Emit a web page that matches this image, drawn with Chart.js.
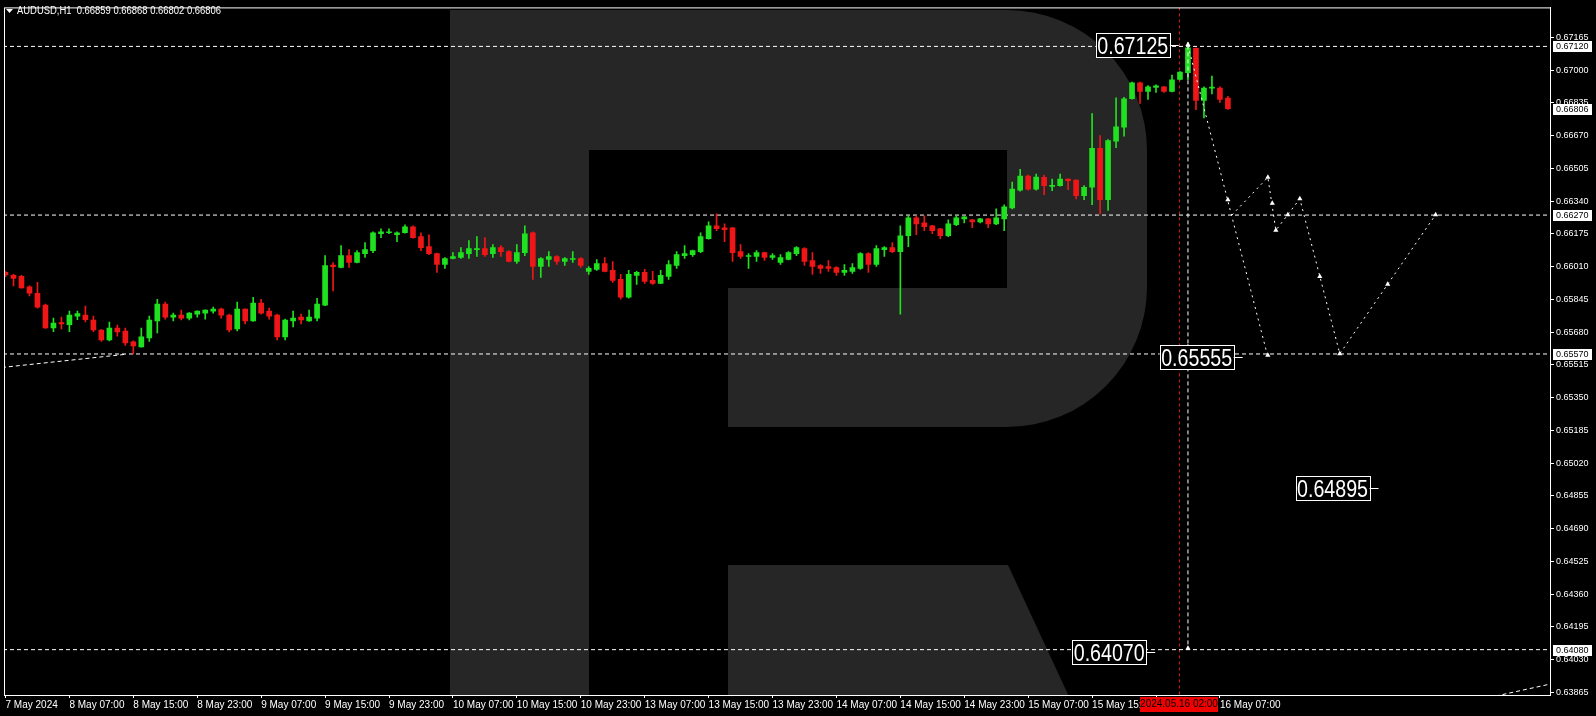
<!DOCTYPE html>
<html>
<head>
<meta charset="utf-8">
<script src="https://cdn.jsdelivr.net/npm/chart.js@4.4.1/dist/chart.umd.min.js"></script>
<style>
  html, body { margin: 0; padding: 0; background: #000; }
  #wrap { width: 1596px; height: 716px; }
</style>
</head>
<body>
<div id="wrap"><canvas id="chart" width="1596" height="716"></canvas></div>
<script>
const SYMBOL = 'AUDUSD,H1';
const LAST_OHLC = [0.66859, 0.66868, 0.66802, 0.66806];

// hourly bars, 7 May 23:00 .. 16 May 08:00
const OPEN = [
  0.65981,0.65966,0.65961,0.65908,0.65876,0.65816,0.65701,0.65728,0.65718,0.65761,
  0.65766,0.65741,0.65691,0.65641,0.65701,0.65686,0.65631,0.65606,0.65651,0.65736,
  0.65821,0.65756,0.65766,0.65751,0.65771,0.65776,0.65786,0.65796,0.65766,0.65696,
  0.65796,0.65736,0.65826,0.65786,0.65766,0.65656,0.65736,0.65756,0.65736,0.65751,
  0.65816,0.66018,0.66006,0.66066,0.66031,0.66076,0.66091,0.66176,0.66181,0.66171,
  0.66181,0.66211,0.66161,0.66111,0.66076,0.66021,0.66051,0.66056,0.66076,0.66096,
  0.66101,0.66076,0.66106,0.66086,0.66036,0.66081,0.66181,0.66011,0.66046,0.66061,
  0.66036,0.66046,0.66051,0.65986,0.65996,0.66026,0.65991,0.65946,0.65856,0.65966,
  0.65981,0.65941,0.65926,0.65961,0.66016,0.66066,0.66071,0.66086,0.66151,0.66216,
  0.66206,0.66206,0.66086,0.66061,0.66061,0.66081,0.66056,0.66031,0.66046,0.66076,
  0.66101,0.66041,0.66016,0.66011,0.66006,0.65981,0.65986,0.66001,0.66076,0.66021,
  0.66096,0.66106,0.66086,0.66166,0.66256,0.66231,0.66216,0.66201,0.66166,0.66221,
  0.66251,0.66246,0.66236,0.66251,0.66226,0.66251,0.66306,0.66396,0.66466,0.66401,
  0.66460,0.66415,0.66418,0.66451,0.66446,0.66368,0.66410,0.66606,0.66348,0.66643,
  0.66713,0.66856,0.66936,0.66893,0.66913,0.66916,0.66893,0.66953,0.66988,0.67110,
  0.66848,0.66910,0.66910,0.66859
];
const HIGH = [
  0.65985,0.65973,0.65966,0.65913,0.65931,0.65821,0.65751,0.65756,0.65786,0.65786,
  0.65811,0.65761,0.65693,0.65731,0.65716,0.65701,0.65636,0.65701,0.65761,0.65846,
  0.65831,0.65776,0.65791,0.65778,0.65788,0.65793,0.65806,0.65801,0.65771,0.65831,
  0.65798,0.65856,0.65846,0.65801,0.65771,0.65746,0.65786,0.65771,0.65791,0.65851,
  0.66066,0.66031,0.66116,0.66096,0.66091,0.66131,0.66186,0.66201,0.66201,0.66186,
  0.66221,0.66216,0.66181,0.66171,0.66078,0.66056,0.66081,0.66106,0.66141,0.66161,
  0.66156,0.66121,0.66116,0.66091,0.66121,0.66216,0.66186,0.66056,0.66086,0.66066,
  0.66056,0.66086,0.66056,0.66011,0.66046,0.66056,0.66036,0.65971,0.65991,0.65986,
  0.65996,0.65986,0.65991,0.66041,0.66086,0.66116,0.66093,0.66181,0.66236,0.66276,
  0.66226,0.66208,0.66121,0.66076,0.66091,0.66083,0.66076,0.66071,0.66086,0.66111,
  0.66106,0.66081,0.66021,0.66041,0.66011,0.66021,0.66026,0.66081,0.66081,0.66116,
  0.66111,0.66131,0.66216,0.66266,0.66266,0.66266,0.66218,0.66203,0.66246,0.66266,
  0.66263,0.66248,0.66253,0.66253,0.66301,0.66321,0.66436,0.66501,0.66471,0.66476,
  0.66471,0.66451,0.66476,0.66453,0.66448,0.66418,0.66781,0.66671,0.66650,0.66861,
  0.66863,0.66940,0.66940,0.66923,0.66926,0.66918,0.66976,0.66993,0.67140,0.67113,
  0.66916,0.66971,0.66916,0.66868
];
const LOW = [
  0.65960,0.65913,0.65901,0.65863,0.65801,0.65699,0.65683,0.65696,0.65683,0.65743,
  0.65731,0.65683,0.65633,0.65636,0.65660,0.65613,0.65570,0.65604,0.65633,0.65676,
  0.65746,0.65736,0.65741,0.65741,0.65756,0.65746,0.65776,0.65751,0.65681,0.65686,
  0.65721,0.65734,0.65771,0.65746,0.65641,0.65641,0.65706,0.65721,0.65734,0.65736,
  0.65814,0.65888,0.66004,0.66006,0.66029,0.66056,0.66081,0.66156,0.66176,0.66136,
  0.66179,0.66154,0.66091,0.66071,0.65981,0.66001,0.66049,0.66051,0.66051,0.66061,
  0.66061,0.66056,0.66061,0.66034,0.66026,0.66066,0.65946,0.65956,0.66011,0.66021,
  0.66016,0.66031,0.66006,0.65971,0.65991,0.65984,0.65931,0.65846,0.65851,0.65921,
  0.65926,0.65921,0.65924,0.65946,0.66001,0.66051,0.66061,0.66081,0.66149,0.66191,
  0.66136,0.66036,0.66051,0.66001,0.66036,0.66041,0.66046,0.66021,0.66044,0.66066,
  0.66016,0.65971,0.65976,0.65986,0.65966,0.65966,0.65976,0.65996,0.65981,0.66011,
  0.66061,0.66081,0.65771,0.66111,0.66171,0.66191,0.66176,0.66151,0.66161,0.66216,
  0.66231,0.66206,0.66231,0.66206,0.66221,0.66191,0.66301,0.66391,0.66396,0.66396,
  0.66373,0.66393,0.66416,0.66398,0.66351,0.66348,0.66323,0.66276,0.66293,0.66610,
  0.66668,0.66854,0.66833,0.66853,0.66888,0.66888,0.66891,0.66951,0.66951,0.66801,
  0.66760,0.66881,0.66838,0.66802
];
const CLOSE = [
  0.65968,0.65951,0.65903,0.65876,0.65806,0.65701,0.65726,0.65721,0.65766,0.65773,
  0.65743,0.65691,0.65641,0.65701,0.65681,0.65626,0.65611,0.65656,0.65741,0.65821,
  0.65756,0.65766,0.65751,0.65776,0.65786,0.65791,0.65796,0.65766,0.65691,0.65796,
  0.65736,0.65826,0.65776,0.65761,0.65656,0.65741,0.65751,0.65741,0.65756,0.65821,
  0.66016,0.66010,0.66066,0.66031,0.66081,0.66096,0.66181,0.66186,0.66186,0.66181,
  0.66211,0.66156,0.66106,0.66076,0.66021,0.66051,0.66061,0.66081,0.66101,0.66101,
  0.66071,0.66106,0.66086,0.66036,0.66081,0.66176,0.66011,0.66051,0.66061,0.66036,
  0.66051,0.66051,0.66016,0.66001,0.66026,0.65986,0.65941,0.65856,0.65971,0.65981,
  0.65936,0.65926,0.65966,0.66021,0.66071,0.66076,0.66091,0.66161,0.66216,0.66201,
  0.66196,0.66081,0.66061,0.66066,0.66081,0.66056,0.66066,0.66056,0.66081,0.66106,
  0.66036,0.66011,0.66001,0.66001,0.65981,0.65991,0.66006,0.66076,0.66021,0.66101,
  0.66106,0.66086,0.66166,0.66256,0.66226,0.66211,0.66191,0.66166,0.66226,0.66256,
  0.66261,0.66236,0.66251,0.66226,0.66256,0.66311,0.66401,0.66466,0.66401,0.66461,
  0.66418,0.66420,0.66451,0.66443,0.66368,0.66410,0.66606,0.66348,0.66646,0.66715,
  0.66856,0.66936,0.66893,0.66916,0.66921,0.66893,0.66951,0.66990,0.67113,0.66848,
  0.66910,0.66913,0.66853,0.66806
];

// one label every 8 bars
const TIME_LABELS = [
  '7 May 2024', '8 May 07:00', '8 May 15:00', '8 May 23:00', '9 May 07:00',
  '9 May 15:00', '9 May 23:00', '10 May 07:00', '10 May 15:00', '10 May 23:00',
  '13 May 07:00', '13 May 15:00', '13 May 23:00', '14 May 07:00', '14 May 15:00',
  '14 May 23:00', '15 May 07:00', '15 May 15:00', '15 May 23:00', '16 May 07:00'
];
const PRICE_TICKS = [
  0.67165, 0.67000, 0.66835, 0.66670, 0.66505, 0.66340, 0.66175, 0.66010, 0.65845,
  0.65680, 0.65515, 0.65350, 0.65185, 0.65020, 0.64855, 0.64690, 0.64525, 0.64360,
  0.64195, 0.64030, 0.63865
];

// horizontal levels (dashed) and their axis labels
const LEVELS = [0.67120, 0.66270, 0.65570, 0.64080];
const BID = 0.66806;

// forecast drawing
const PATH_MAIN_X = [148, 158];
const PATH_MAIN_Y = [0.67125, 0.65555];
const PATH_ALT_X = [153.5, 158, 159, 162, 167, 179];
const PATH_ALT_Y = [0.66270, 0.66460, 0.66193, 0.66352, 0.65571, 0.66272];
const ARROW_X = [153, 158, 158, 158.55, 159, 160.5, 162, 164.5, 167, 173, 179, 148, 148, 148];
const ARROW_Y = [0.66347, 0.65563, 0.66460, 0.66330, 0.66193, 0.66272, 0.66352, 0.65960, 0.65571, 0.65922, 0.66272, 0.67130, 0.65607, 0.64087];
const DROP_X = [148, 148];
const DROP_Y = [0.67125, 0.64080];
const TREND_L_X = [-0.45, 14.95];
const TREND_L_Y = [0.65502, 0.65568];
const TREND_R_X = [186.5, 193.5];
const TREND_R_Y = [0.63846, 0.63908];

// target callouts
const CALLOUT_PRICE = [0.67125, 0.65555, 0.64895, 0.64070];
const CALLOUT_X = [146.85, 154.85, 171.85, 143.9];

const MARK_BAR = 147;
const MARK_TEXT = '2024.05.16 02:00';

const X_MIN = -0.1875, X_MAX = 193.3125;
const Y_MIN = 0.638515, Y_MAX = 0.673165;

const BULL = '#1fe11f';
const BEAR = '#ee1616';
const LOGO = '#262626';
const FONT = 'Liberation Sans';

const idx = OPEN.map((_, i) => i);
const barColors = idx.map((i) => (CLOSE[i] >= OPEN[i] ? BULL : BEAR));
const pts = (xs, ys) => xs.map((x, i) => ({ x, y: ys[i] }));

function dashed(data, dash, order) {
  return {
    type: 'line', data, borderColor: '#fff', borderWidth: 1, borderDash: dash,
    pointRadius: 0, fill: false, tension: 0, clip: 0, order,
  };
}

const datasets = [
  ...LEVELS.map((v) => dashed([{ x: X_MIN - 1, y: v }, { x: X_MAX + 1, y: v }], [4, 3], 5)),
  dashed(pts(TREND_L_X, TREND_L_Y), [4, 3], 5),
  dashed(pts(TREND_R_X, TREND_R_Y), [4, 3], 5),
  {
    type: 'bar', data: idx.map((i) => ({ x: i, y: [LOW[i], HIGH[i]] })),
    backgroundColor: barColors, barThickness: 1, grouped: false, borderWidth: 0, clip: 0, order: 3,
  },
  {
    type: 'bar', data: idx.map((i) => ({ x: i, y: [Math.min(OPEN[i], CLOSE[i]), Math.max(OPEN[i], CLOSE[i])] })),
    backgroundColor: barColors, barThickness: 5, grouped: false, borderWidth: 0, minBarLength: 1, clip: 0, order: 2,
  },
  dashed(pts(DROP_X, DROP_Y), [4, 3], 1),
  dashed(pts(PATH_MAIN_X, PATH_MAIN_Y), [2, 4], 1),
  dashed(pts(PATH_ALT_X, PATH_ALT_Y), [2, 4], 1),
  {
    type: 'line', data: pts(ARROW_X, ARROW_Y), showLine: false, pointStyle: 'triangle',
    pointRadius: 3, pointBackgroundColor: '#fff', pointBorderColor: '#fff', pointBorderWidth: 0, clip: 0, order: 0,
  },
];

// background watermark
function drawLogo(ctx) {
  ctx.fillStyle = LOGO;
  ctx.beginPath();
  ctx.moveTo(450, 10);
  ctx.lineTo(1007, 10);
  ctx.arc(1007, 150, 140, -Math.PI / 2, 0);
  ctx.lineTo(1147, 287);
  ctx.arc(1007, 287, 140, 0, Math.PI / 2);
  ctx.lineTo(728, 427);
  ctx.lineTo(728, 288);
  ctx.lineTo(1007, 288);
  ctx.lineTo(1007, 150);
  ctx.lineTo(589, 150);
  ctx.lineTo(589, 716);
  ctx.lineTo(450, 716);
  ctx.closePath();
  ctx.fill();
  ctx.beginPath();
  ctx.moveTo(728, 565);
  ctx.lineTo(1008, 565);
  ctx.lineTo(1078, 716);
  ctx.lineTo(728, 716);
  ctx.closePath();
  ctx.fill();
}

const overlay = {
  id: 'overlay',
  beforeDatasetsDraw(chart) {
    const { ctx, chartArea: a, scales } = chart;
    ctx.save();
    ctx.beginPath();
    ctx.rect(a.left, a.top, a.right - a.left, a.bottom - a.top);
    ctx.clip();
    drawLogo(ctx);
    // time marker line
    const mx = Math.round(scales.x.getPixelForValue(MARK_BAR)) - 0.5;
    ctx.strokeStyle = '#d01818';
    ctx.lineWidth = 1;
    ctx.setLineDash([3, 3]);
    ctx.beginPath();
    ctx.moveTo(mx, a.top);
    ctx.lineTo(mx, a.bottom);
    ctx.stroke();
    ctx.restore();
  },
  afterDraw(chart) {
    const { ctx, chartArea: a, scales } = chart;
    const xs = scales.x, ys = scales.y;
    ctx.save();
    // frame
    ctx.strokeStyle = '#fff';
    ctx.lineWidth = 1;
    ctx.strokeRect(a.left + 0.5, a.top + 0.5, a.right - a.left, a.bottom - a.top);

    // callouts
    CALLOUT_PRICE.forEach((p, i) => {
      const x = xs.getPixelForValue(CALLOUT_X[i]);
      const y = Math.round(ys.getPixelForValue(p));
      const bw = 74, bh = 24, right = x - 9;
      ctx.fillStyle = '#000';
      ctx.fillRect(right - bw, y - bh / 2, bw, bh);
      ctx.strokeStyle = '#fff';
      ctx.strokeRect(Math.round(right - bw) + 0.5, y - bh / 2 + 0.5, bw, bh);
      ctx.beginPath();
      ctx.moveTo(right, y + 0.5);
      ctx.lineTo(x, y + 0.5);
      ctx.stroke();
      ctx.fillStyle = '#fff';
      ctx.font = `23px "${FONT}"`;
      ctx.textAlign = 'center';
      ctx.textBaseline = 'alphabetic';
      ctx.fillText(p.toFixed(5), right - bw / 2, y + 8.5, 71);
    });

    // axis price boxes
    ctx.font = `9px "${FONT}"`;
    ctx.textAlign = 'left';
    ctx.textBaseline = 'middle';
    [...LEVELS, BID].forEach((p) => {
      const y = ys.getPixelForValue(p);
      ctx.fillStyle = '#fff';
      ctx.fillRect(a.right + 3, Math.round(y) - 5, 39, 11);
      ctx.fillStyle = '#000';
      ctx.fillText(p.toFixed(5), a.right + 6, Math.round(y) + 0.5);
    });

    // time marker label
    const mx = Math.round(xs.getPixelForValue(MARK_BAR));
    ctx.fillStyle = '#f00000';
    ctx.fillRect(mx - 40, a.bottom + 2, 78, 15);
    ctx.fillStyle = '#000';
    ctx.font = `10px "${FONT}"`;
    ctx.textAlign = 'center';
    ctx.fillText(MARK_TEXT, mx - 1, a.bottom + 9.5);

    // header
    ctx.fillStyle = '#fff';
    ctx.beginPath();
    ctx.moveTo(6, 9); ctx.lineTo(13, 9); ctx.lineTo(9.5, 13); ctx.closePath();
    ctx.fill();
    ctx.font = `10px "${FONT}"`;
    ctx.textAlign = 'left';
    ctx.textBaseline = 'middle';
    ctx.fillText(`${SYMBOL}  ${LAST_OHLC.map((v) => v.toFixed(5)).join(' ')}`, 17, 11, 204);
    ctx.restore();
  },
};

new Chart(document.getElementById('chart'), {
  type: 'bar',
  data: { datasets },
  options: {
    responsive: false,
    animation: false,
    devicePixelRatio: 1,
    layout: { padding: { left: 2, top: 2, right: 0, bottom: 0 } },
    plugins: { legend: { display: false }, tooltip: { enabled: false } },
    scales: {
      x: {
        type: 'linear', position: 'bottom', min: X_MIN, max: X_MAX, offset: false,
        grid: { drawOnChartArea: false, drawTicks: true, tickLength: 3, color: '#fff', offset: false },
        border: { color: '#fff' },
        ticks: {
          color: '#fff', font: { family: FONT, size: 10 }, align: 'start', maxRotation: 0,
          autoSkip: false, padding: 1, callback: (v) => TIME_LABELS[Math.round(v / 8)],
        },
        afterBuildTicks: (s) => { s.ticks = TIME_LABELS.map((_, k) => ({ value: k * 8 })); },
        afterFit: (s) => { s.height = 21; },
      },
      y: {
        type: 'linear', position: 'right', min: Y_MIN, max: Y_MAX, beginAtZero: false,
        grid: { drawOnChartArea: false, drawTicks: true, tickLength: 4, color: '#fff' },
        border: { color: '#fff' },
        ticks: { color: '#fff', font: { family: FONT, size: 9 }, padding: 2, callback: (v) => v.toFixed(5) },
        afterBuildTicks: (s) => { s.ticks = PRICE_TICKS.map((v) => ({ value: v })); },
        afterFit: (s) => { s.width = 46; },
      },
    },
  },
  plugins: [overlay],
});
</script>
</body>
</html>
